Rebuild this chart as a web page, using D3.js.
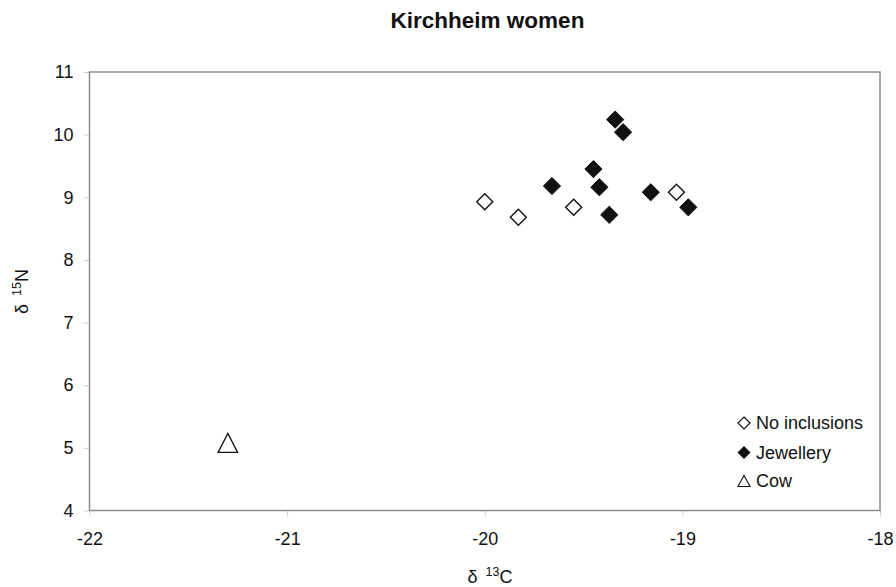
<!DOCTYPE html>
<html>
<head>
<meta charset="utf-8">
<script src="https://cdn.jsdelivr.net/npm/d3@7"></script>
<style>
  html, body { margin: 0; padding: 0; background: #fff; }
  svg { display: block; font-family: "Liberation Sans", Arial, sans-serif; }
</style>
</head>
<body>
<svg id="chart" width="896" height="587"></svg>
<script>
// δ13C / δ15N values per group
const noInclusionsC = [-20.00, -19.83, -19.55, -19.03];
const noInclusionsN = [8.93, 8.68, 8.84, 9.08];

const jewelleryC = [-19.34, -19.30, -19.45, -19.66, -19.42, -19.16, -19.37, -18.97];
const jewelleryN = [10.24, 10.04, 9.45, 9.18, 9.16, 9.08, 8.72, 8.84];

const cowC = [-21.30];
const cowN = [5.08];

const xTicks = [-22, -21, -20, -19, -18];
const yTicks = [4, 5, 6, 7, 8, 9, 10, 11];

const legendLabels = ["No inclusions", "Jewellery", "Cow"];

const svg = d3.select("#chart");
const plotLeft = 89.5, plotRight = 880, plotTop = 72, plotBottom = 510.5;

const x = d3.scaleLinear().domain([-22, -18]).range([plotLeft, plotRight]);
const y = d3.scaleLinear().domain([4, 11]).range([plotBottom, plotTop]);

// Title
svg.append("text")
  .attr("x", 487.5).attr("y", 28)
  .attr("text-anchor", "middle")
  .attr("font-size", 22.5).attr("font-weight", "bold")
  .attr("fill", "#111")
  .text("Kirchheim women");

// Axes with outward light ticks; labels use a plain hyphen for negatives
const plain = d => String(d);
const xAxis = svg.append("g")
  .attr("transform", `translate(0,${plotBottom})`)
  .call(d3.axisBottom(x).tickValues(xTicks).tickSize(6).tickPadding(16).tickFormat(plain));
const yAxis = svg.append("g")
  .attr("transform", `translate(${plotLeft},0)`)
  .call(d3.axisLeft(y).tickValues(yTicks).tickSize(6).tickPadding(10).tickFormat(plain));

[xAxis, yAxis].forEach(g => {
  g.select(".domain").remove();
  g.selectAll(".tick line").attr("stroke", "#d0d0d0");
  g.selectAll(".tick text")
    .attr("font-size", 18)
    .attr("font-family", "Liberation Sans, Arial, sans-serif")
    .attr("fill", "#111");
});
xAxis.selectAll(".tick text").attr("dy", "0.71em");

// Plot frame
svg.append("rect")
  .attr("x", plotLeft).attr("y", plotTop)
  .attr("width", plotRight - plotLeft).attr("height", plotBottom - plotTop)
  .attr("fill", "none").attr("stroke", "#8c8c8c").attr("stroke-width", 1.5);

// Axis titles
const xl = svg.append("text")
  .attr("x", 490).attr("y", 583)
  .attr("text-anchor", "middle")
  .attr("font-size", 18).attr("fill", "#111");
xl.append("tspan").text("δ");
xl.append("tspan").attr("font-size", 12.5).attr("dx", 8).attr("dy", -7).text("13");
xl.append("tspan").attr("dy", 7).text("C");

const yl = svg.append("text")
  .attr("transform", "translate(28,291.5) rotate(-90)")
  .attr("text-anchor", "middle")
  .attr("font-size", 18).attr("fill", "#111");
yl.append("tspan").text("δ");
yl.append("tspan").attr("font-size", 12.5).attr("dx", 8).attr("dy", -7).text("15");
yl.append("tspan").attr("dy", 7).text("N");

// Markers
const diamond = r => `M0,${-r}L${r},0L0,${r}L${-r},0Z`;
const triangle = (w, h) => `M0,${-h / 2}L${w / 2},${h / 2}L${-w / 2},${h / 2}Z`;

const open = noInclusionsC.map((c, i) => ({ c, n: noInclusionsN[i] }));
const filled = jewelleryC.map((c, i) => ({ c, n: jewelleryN[i] }));
const cows = cowC.map((c, i) => ({ c, n: cowN[i] }));

svg.append("g").selectAll("path").data(open).join("path")
  .attr("transform", d => `translate(${x(d.c)},${y(d.n)})`)
  .attr("d", diamond(8))
  .attr("fill", "#fff").attr("stroke", "#111").attr("stroke-width", 1.4);

svg.append("g").selectAll("path").data(filled).join("path")
  .attr("transform", d => `translate(${x(d.c)},${y(d.n)})`)
  .attr("d", diamond(8.6))
  .attr("fill", "#111").attr("stroke", "#111").attr("stroke-width", 1);

svg.append("g").selectAll("path").data(cows).join("path")
  .attr("transform", d => `translate(${x(d.c)},${y(d.n)})`)
  .attr("d", triangle(19.5, 19))
  .attr("fill", "#fff").attr("stroke", "#111").attr("stroke-width", 1.3);

// Legend
const legendRows = [423, 452.5, 481];
const lg = svg.append("g");
legendLabels.forEach((label, i) => {
  const yy = legendRows[i];
  const m = lg.append("path").attr("transform", `translate(744,${yy})`);
  if (i === 0) m.attr("d", diamond(6)).attr("fill", "#fff").attr("stroke", "#111").attr("stroke-width", 1.2);
  else if (i === 1) m.attr("d", diamond(6.5)).attr("fill", "#111");
  else m.attr("d", triangle(12, 11)).attr("fill", "#fff").attr("stroke", "#111").attr("stroke-width", 1.1);
  lg.append("text")
    .attr("x", 756).attr("y", yy).attr("dy", "0.36em")
    .attr("font-size", 18).attr("fill", "#111")
    .text(label);
});
</script>
</body>
</html>
